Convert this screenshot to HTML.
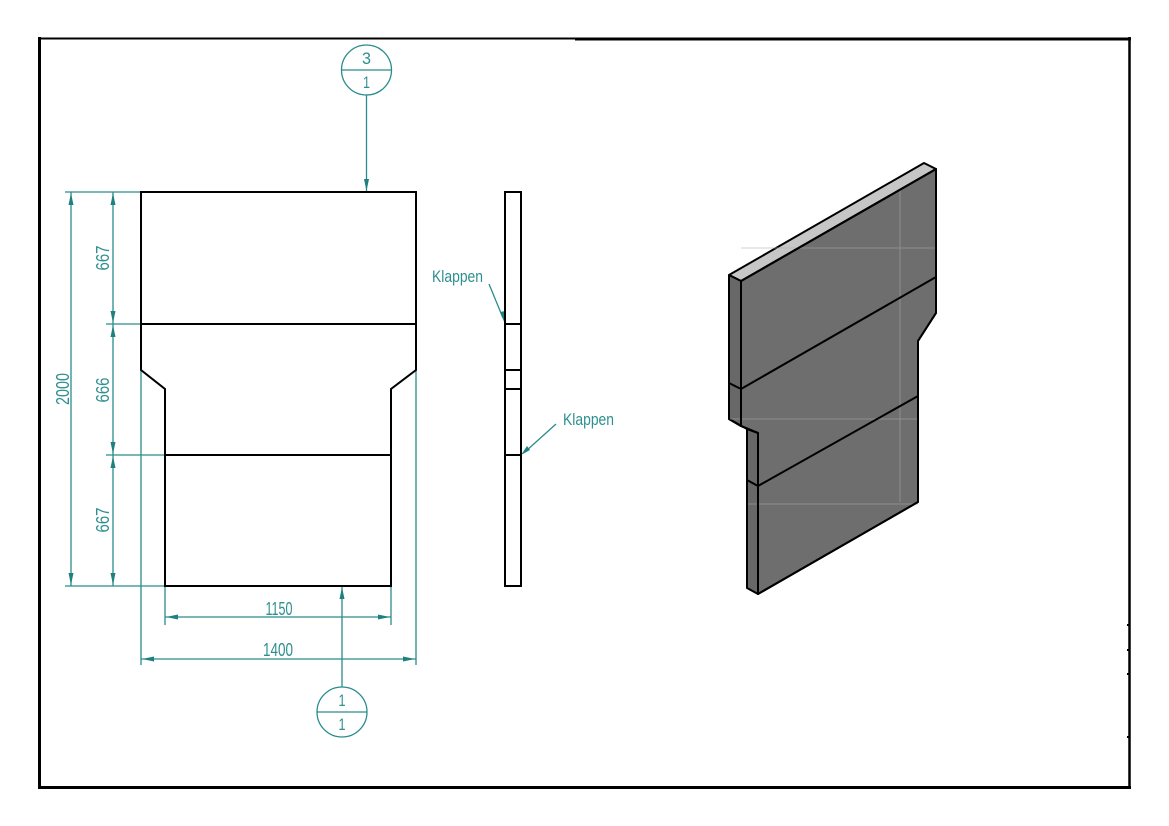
<!DOCTYPE html>
<html>
<head>
<meta charset="utf-8">
<style>
html,body{margin:0;padding:0;background:#fff;}
svg{display:block;}
text{font-family:"Liberation Sans Narrow","Liberation Sans",sans-serif;fill:#2f8f8f;}
</style>
</head>
<body>
<svg width="1169" height="826" viewBox="0 0 1169 826" xmlns="http://www.w3.org/2000/svg">
  <rect x="0" y="0" width="1169" height="826" fill="#fff"/>
  <!-- frame -->
  <line x1="39" y1="38.5" x2="576" y2="38.5" stroke="#000" stroke-width="2"/>
  <line x1="575" y1="39" x2="1131" y2="39" stroke="#000" stroke-width="3"/>
  <line x1="39.5" y1="37" x2="39.5" y2="789" stroke="#000" stroke-width="3"/>
  <line x1="1129.5" y1="37" x2="1129.5" y2="789" stroke="#000" stroke-width="2.5"/>
  <line x1="38" y1="787.5" x2="1131" y2="787.5" stroke="#000" stroke-width="3"/>
  <g stroke="#000" stroke-width="2">
    <line x1="1127" y1="625" x2="1130" y2="625"/>
    <line x1="1127" y1="650" x2="1130" y2="650"/>
    <line x1="1127" y1="674" x2="1130" y2="674"/>
    <line x1="1127" y1="737" x2="1130" y2="737"/>
  </g>

  <!-- dimension lines (teal) -->
  <g stroke="#2a8c8c" stroke-width="1.3" fill="none">
    <line x1="65" y1="192" x2="141" y2="192"/>
    <line x1="106" y1="324" x2="141" y2="324"/>
    <line x1="106" y1="455" x2="165" y2="455"/>
    <line x1="65" y1="586" x2="165" y2="586"/>
    <line x1="165" y1="586" x2="165" y2="625"/>
    <line x1="391" y1="586" x2="391" y2="625"/>
    <line x1="141" y1="370" x2="141" y2="665"/>
    <line x1="416" y1="370" x2="416" y2="665"/>
    <line x1="71" y1="192" x2="71" y2="586"/>
    <line x1="113" y1="192" x2="113" y2="586"/>
    <line x1="165" y1="617" x2="391" y2="617"/>
    <line x1="141" y1="659" x2="416" y2="659"/>
    <line x1="366.5" y1="95" x2="366.5" y2="192"/>
    <line x1="342" y1="687" x2="342" y2="586"/>
    <circle cx="366.5" cy="70" r="25"/>
    <line x1="341.5" y1="70" x2="391.5" y2="70"/>
    <circle cx="342" cy="712" r="25"/>
    <line x1="317" y1="712" x2="367" y2="712"/>
    <line x1="489" y1="284" x2="503" y2="318"/>
    <line x1="556" y1="424" x2="526" y2="451"/>
  </g>
  <!-- arrowheads -->
  <g fill="#1f8080" stroke="none">
    <polygon points="71,193 68.5,205 73.5,205"/>
    <polygon points="71,585 68.5,573 73.5,573"/>
    <polygon points="113,193 110.5,205 115.5,205"/>
    <polygon points="113,323 110.5,311 115.5,311"/>
    <polygon points="113,325 110.5,337 115.5,337"/>
    <polygon points="113,454 110.5,442 115.5,442"/>
    <polygon points="113,456 110.5,468 115.5,468"/>
    <polygon points="113,585 110.5,573 115.5,573"/>
    <polygon points="166,617 178,614.5 178,619.5"/>
    <polygon points="390,617 378,614.5 378,619.5"/>
    <polygon points="142,659 154,656.5 154,661.5"/>
    <polygon points="415,659 403,656.5 403,661.5"/>
    <polygon points="366.5,191 364,179 369,179"/>
    <polygon points="342,587 339.5,599 344.5,599"/>
    <polygon points="505,324 500,312 505.5,311"/>
    <polygon points="521,455 527,446 530,450"/>
  </g>

  <!-- texts -->
  <text x="366.5" y="64" font-size="17" text-anchor="middle" textLength="9" lengthAdjust="spacingAndGlyphs">3</text>
  <text x="366.5" y="88" font-size="17" text-anchor="middle" textLength="7" lengthAdjust="spacingAndGlyphs">1</text>
  <text x="342" y="706" font-size="17" text-anchor="middle" textLength="7" lengthAdjust="spacingAndGlyphs">1</text>
  <text x="342" y="730" font-size="17" text-anchor="middle" textLength="7" lengthAdjust="spacingAndGlyphs">1</text>
  <text x="279" y="615" font-size="18" text-anchor="middle" textLength="27" lengthAdjust="spacingAndGlyphs">1150</text>
  <text x="278" y="656" font-size="18" text-anchor="middle" textLength="30" lengthAdjust="spacingAndGlyphs">1400</text>
  <text transform="translate(69,389) rotate(-90)" font-size="18" text-anchor="middle" textLength="32" lengthAdjust="spacingAndGlyphs">2000</text>
  <text transform="translate(109,258) rotate(-90)" font-size="18" text-anchor="middle" textLength="25" lengthAdjust="spacingAndGlyphs">667</text>
  <text transform="translate(109,390) rotate(-90)" font-size="18" text-anchor="middle" textLength="25" lengthAdjust="spacingAndGlyphs">666</text>
  <text transform="translate(109,520) rotate(-90)" font-size="18" text-anchor="middle" textLength="25" lengthAdjust="spacingAndGlyphs">667</text>
  <text x="432" y="282" font-size="17" textLength="51" lengthAdjust="spacingAndGlyphs">Klappen</text>
  <text x="563" y="425" font-size="17" textLength="51" lengthAdjust="spacingAndGlyphs">Klappen</text>

  <!-- front view -->
  <g stroke="#000" stroke-width="2" fill="none" stroke-linejoin="miter">
    <path d="M141,192 H416 V370 L391,389 V586 H165 V389 L141,370 Z"/>
    <line x1="141" y1="324" x2="416" y2="324"/>
    <line x1="165" y1="455" x2="391" y2="455"/>
  </g>

  <!-- side view -->
  <g stroke="#000" stroke-width="2" fill="none">
    <rect x="505" y="192" width="16" height="394"/>
    <line x1="505" y1="324" x2="521" y2="324"/>
    <line x1="505" y1="370" x2="521" y2="370"/>
    <line x1="505" y1="389" x2="521" y2="389"/>
    <line x1="505" y1="455" x2="521" y2="455"/>
  </g>

  <!-- isometric view -->
  <g stroke="#000" stroke-width="2" stroke-linejoin="round">
    <polygon points="741,281 936,169 936,313 918,341 918,502 758,594 758,433 741,426" fill="#6e6e6e"/>
    <polygon points="729,275 924,163 936,169 741,281" fill="#c6c6c6"/>
    <polygon points="729,275 741,281 741,426 729,419" fill="#686868"/>
    <polygon points="729,419 741,426 758,433 747,429" fill="#686868"/>
    <polygon points="747,429 758,433 758,594 747,588" fill="#686868"/>
  </g>
  <g stroke="#a8a8a8" stroke-width="0.8" opacity="0.7">
    <line x1="900" y1="187" x2="900" y2="502"/>
    <line x1="741" y1="248" x2="936" y2="248"/>
    <line x1="730" y1="419" x2="918" y2="419"/>
    <line x1="748" y1="504" x2="918" y2="504"/>
  </g>
  <g stroke="#000" stroke-width="2" fill="none" stroke-linejoin="round">
    <polyline points="729,383 741,389 936,277"/>
    <polyline points="747,480 758,486 918,396"/>
    <polygon points="741,281 936,169 936,313 918,341 918,502 758,594 758,433 741,426"/>
  </g>
</svg>
</body>
</html>
